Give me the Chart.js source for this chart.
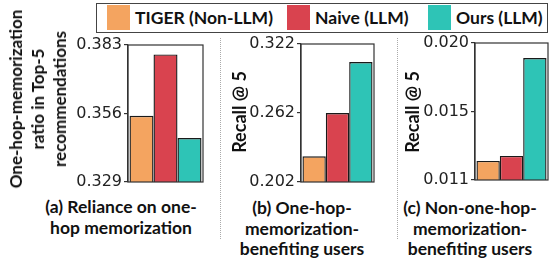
<!DOCTYPE html>
<html>
<head>
<meta charset="utf-8">
<script src="https://cdn.jsdelivr.net/npm/chart.js@4.4.1/dist/chart.umd.min.js"></script>
<style>
  body { margin: 0; background: #fff; }
  #fig { position: relative; width: 549px; height: 264px; overflow: hidden; font-family: Lato, sans-serif; font-weight: 700; color: #111; }
  .panel { position: absolute; top: 0; height: 195px; }
  .legend { position: absolute; left: 96px; top: 3px; width: 450px; height: 28px; border: 1.5px solid #444; }
  .item { position: absolute; top: 1px; font-size: 17.5px; line-height: 25px; white-space: nowrap; }
  .sw { display: inline-block; width: 23px; height: 25px; vertical-align: top; margin-right: 5px; }
  .ytitle { position: absolute; transform: translate(-50%, -50%) rotate(-90deg); white-space: nowrap; text-align: center; font-size: 17px; line-height: 22px; }
  .sub { position: absolute; transform: translateX(-50%); white-space: nowrap; text-align: center; font-size: 17.5px; line-height: 20.5px; }
  .sep { position: absolute; top: 38px; height: 201px; border-left: 1.5px dotted #aaa; }
</style>
</head>
<body>
<div id="fig">
  <div class="legend">
    <div class="item" style="left:10px"><span class="sw" style="background:#F4A460"></span>TIGER (Non-LLM)</div>
    <div class="item" style="left:190px"><span class="sw" style="background:#D9434F"></span>Naive (LLM)</div>
    <div class="item" style="left:331px"><span class="sw" style="background:#2EC4B6"></span>Ours (LLM)</div>
  </div>

  <div class="panel" style="left:0;width:215px"><canvas id="chartA"></canvas></div>
  <div class="panel" style="left:225px;width:155px"><canvas id="chartB"></canvas></div>
  <div class="panel" style="left:400px;width:149px"><canvas id="chartC"></canvas></div>

  <div class="ytitle" style="left:38px;top:99px">One-hop-memorization<br>ratio in Top-5<br>recommendations</div>
  <div class="ytitle" style="left:239px;top:112px;font-size:18px">Recall @ 5</div>
  <div class="ytitle" style="left:412px;top:112px;font-size:18px">Recall @ 5</div>

  <div class="sub" style="left:121px;top:197px">(a) Reliance on one-<br>hop memorization</div>
  <div class="sub" style="left:302px;top:198px">(b) One-hop-<br>memorization-<br>benefiting users</div>
  <div class="sub" style="left:470px;top:198px">(c) Non-one-hop-<br>memorization-<br>benefiting users</div>

  <div class="sep" style="left:220px"></div>
  <div class="sep" style="left:397px"></div>
</div>

<script>
// methods, in legend order
const methods = ['TIGER (Non-LLM)', 'Naive (LLM)', 'Ours (LLM)'];
const colors = ['#F4A460', '#D9434F', '#2EC4B6'];

// (a) one-hop memorization ratio in top-5
const ratioA = [0.3551, 0.3793, 0.3463];
const ticksA = [0.329, 0.356, 0.383];
const labelsA = ['0.329', '0.356', '0.383'];

// (b) recall@5, one-hop-memorization-benefiting users
const recallB = [0.2244, 0.2619, 0.3063];
const ticksB = [0.202, 0.262, 0.322];
const labelsB = ['0.202', '0.262', '0.322'];

// (c) recall@5, non-one-hop-memorization-benefiting users
const recallC = [0.01225, 0.01258, 0.01901];
const ticksC = [0.011, 0.0155, 0.020];
const labelsC = ['0.011', '0.015', '0.020'];

// frame around the plot area (matplotlib style box)
const boxPlugin = {
    id: 'box',
    afterDraw(chart) {
        const a = chart.chartArea;
        const ctx = chart.ctx;
        ctx.save();
        ctx.strokeStyle = '#333';
        ctx.lineWidth = 1.2;
        ctx.strokeRect(a.left, a.top, a.right - a.left, a.bottom - a.top);
        ctx.restore();
    }
};

function makeChart(id, values, ticks, labels, axisWidth, padding) {
    return new Chart(document.getElementById(id), {
        type: 'bar',
        data: {
            labels: [''],
            datasets: methods.map((m, i) => ({
                label: m,
                data: [values[i]],
                backgroundColor: colors[i],
                borderColor: '#1a1a1a',
                borderWidth: 1.4,
                borderSkipped: false,
                barPercentage: 1,
                categoryPercentage: 0.96
            }))
        },
        options: {
            responsive: true,
            maintainAspectRatio: false,
            animation: false,
            layout: { padding: padding },
            plugins: { legend: { display: false }, tooltip: { enabled: false } },
            scales: {
                x: { display: false },
                y: {
                    min: ticks[0],
                    max: ticks[ticks.length - 1],
                    afterBuildTicks: s => { s.ticks = ticks.map(v => ({ value: v })); },
                    afterFit: s => { s.width = axisWidth; },
                    ticks: {
                        padding: 2,
                        color: '#222',
                        font: { family: 'DejaVu Sans', size: 16 },
                        callback: (v, i) => labels[i]
                    },
                    grid: { drawOnChartArea: false, tickLength: 4, color: '#333', lineWidth: 1.2 },
                    border: { color: '#333', width: 1.2 }
                }
            }
        },
        plugins: [boxPlugin]
    });
}

makeChart('chartA', ratioA, ticksA, labelsA, 128, { top: 45, bottom: 13, right: 12 });
makeChart('chartB', recallB, ticksB, labelsB, 76, { top: 44, bottom: 13, right: 6 });
makeChart('chartC', recallC, ticksC, labelsC, 75, { top: 43, bottom: 15, right: 1 });
</script>
</body>
</html>
